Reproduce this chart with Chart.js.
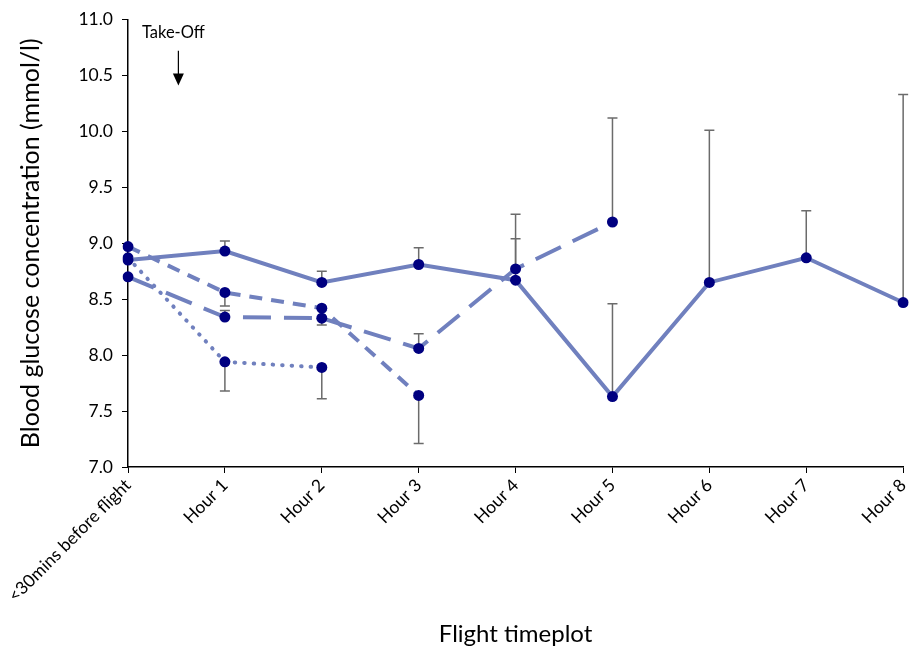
<!DOCTYPE html>
<html>
<head>
<meta charset="utf-8">
<script src="https://cdn.jsdelivr.net/npm/chart.js@4"></script>
<style>
  html, body { margin: 0; padding: 0; background: #fff; }
  #wrap { width: 920px; height: 649px; }
</style>
</head>
<body>
<div id="wrap"><canvas id="chart" width="920" height="649"></canvas></div>
<script>
const timeLabels = ['<30mins before flight', 'Hour 1', 'Hour 2', 'Hour 3', 'Hour 4', 'Hour 5', 'Hour 6', 'Hour 7', 'Hour 8'];
const yTicks = [7.0, 7.5, 8.0, 8.5, 9.0, 9.5, 10.0, 10.5, 11.0];

// series values
const solidVals     = [8.85, 8.93, 8.65, 8.81, 8.67, 7.63, 8.65, 8.87, 8.47];
const shortDashVals = [8.97, 8.56, 8.42, 7.64, null, null, null, null, null];
const longDashVals  = [8.70, 8.34, 8.33, 8.06, 8.77, 9.19, null, null, null];
const dottedVals    = [8.87, 7.94, 7.89, null, null, null, null, null, null];

// where each error bar ends (one-sided bars)
const solidErr     = [null, 9.02, 8.75, 8.96, 9.04, 8.46, 10.01, 9.29, 10.33];
const shortDashErr = [null, 8.44, null, 7.21, null, null, null, null, null];
const longDashErr  = [null, 8.40, 8.27, 8.19, 9.26, 10.12, null, null, null];
const dottedErr    = [null, 7.68, 7.61, null, null, null, null, null, null];

const lineColor = 'rgba(112, 128, 190, 1)';
const pointColor = '#000080';
const FONT = 'Lato, "Open Sans", sans-serif';

const errorBars = {
    id: 'errorBars',
    beforeDatasetsDraw(chart) {
        const ctx = chart.ctx;
        const xs = chart.scales.x, ys = chart.scales.y;
        ctx.save();
        ctx.strokeStyle = '#6b6b6b';
        ctx.lineWidth = 1.5;
        chart.data.datasets.forEach(ds => {
            ds.errEnds.forEach((e, i) => {
                if (e == null || ds.data[i] == null) return;
                const x = xs.getPixelForValue(i);
                const y0 = ys.getPixelForValue(ds.data[i]);
                const y1 = ys.getPixelForValue(e);
                ctx.beginPath();
                ctx.moveTo(x, y0);
                ctx.lineTo(x, y1);
                ctx.moveTo(x - 5, y1);
                ctx.lineTo(x + 5, y1);
                ctx.stroke();
            });
        });
        ctx.restore();
    }
};

const takeOff = {
    id: 'takeOff',
    afterDraw(chart) {
        const ctx = chart.ctx;
        const xs = chart.scales.x, ys = chart.scales.y;
        const x = xs.getPixelForValue(0.52);
        ctx.save();
        ctx.fillStyle = '#000';
        ctx.strokeStyle = '#000';
        ctx.font = '16.5px ' + FONT;
        ctx.textAlign = 'center';
        ctx.textBaseline = 'middle';
        ctx.fillText('Take-Off', x - 5, ys.getPixelForValue(10.88));
        const yTop = ys.getPixelForValue(10.72);
        const yTip = ys.getPixelForValue(10.41);
        ctx.lineWidth = 1.2;
        ctx.beginPath();
        ctx.moveTo(x, yTop);
        ctx.lineTo(x, yTip - 8);
        ctx.stroke();
        ctx.beginPath();
        ctx.moveTo(x - 5.5, yTip - 12);
        ctx.lineTo(x + 5.5, yTip - 12);
        ctx.lineTo(x, yTip);
        ctx.closePath();
        ctx.fill();
        ctx.restore();
    }
};

function series(data, dash, errEnds, cap) {
    return {
        data: data,
        errEnds: errEnds,
        borderColor: lineColor,
        borderWidth: 4,
        borderDash: dash,
        borderCapStyle: cap || 'butt',
        pointBackgroundColor: pointColor,
        pointBorderColor: pointColor,
        pointRadius: 5.5,
        pointBorderWidth: 0,
        tension: 0,
        spanGaps: false,
        fill: false
    };
}

new Chart(document.getElementById('chart'), {
    type: 'line',
    data: {
        labels: timeLabels,
        datasets: [
            series(solidVals, [], solidErr),
            series(shortDashVals, [13, 9], shortDashErr),
            series(longDashVals, [28, 13], longDashErr),
            series(dottedVals, [0.5, 9], dottedErr, 'round')
        ]
    },
    options: {
        responsive: false,
        animation: false,
        layout: { padding: { top: 17, right: 10, left: 0, bottom: 0 } },
        plugins: { legend: { display: false }, tooltip: { enabled: false } },
        scales: {
            x: {
                offset: false,
                border: { color: '#000', width: 1.5 },
                grid: { drawOnChartArea: false, drawTicks: true, tickLength: 6, color: '#000' },
                ticks: { color: '#000', font: { family: FONT, size: 17.5 }, maxRotation: 45, minRotation: 45, padding: 2 },
                title: { display: true, text: 'Flight timeplot', color: '#000', font: { family: FONT, size: 24 }, padding: { top: 0, bottom: 0 } },
                afterFit(s) { s.height = 182; }
            },
            y: {
                min: 7, max: 11,
                afterBuildTicks(s) { s.ticks = yTicks.map(v => ({ value: v })); },
                border: { color: '#000', width: 1.5 },
                grid: { drawOnChartArea: false, drawTicks: true, tickLength: 6, color: '#000' },
                ticks: { color: '#000', font: { family: FONT, size: 17.5 }, padding: 9, callback: v => Number(v).toFixed(1) },
                title: { display: true, text: 'Blood glucose concentration (mmol/l)', color: '#000', font: { family: FONT, size: 25 }, padding: { top: 16, bottom: 4 } },
                afterFit(s) { s.width = 128; }
            }
        }
    },
    plugins: [errorBars, takeOff]
});
</script>
</body>
</html>
